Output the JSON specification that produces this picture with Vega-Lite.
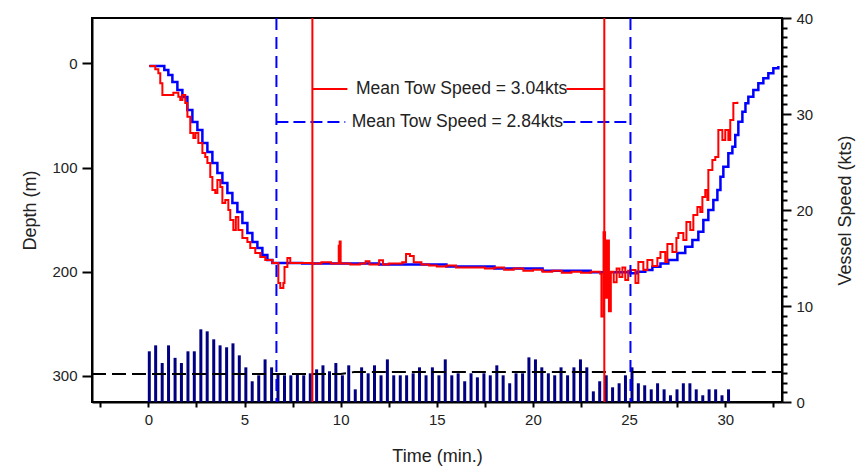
{
  "$schema": "https://vega.github.io/schema/vega-lite/v6.json",
  "width": 690,
  "height": 384,
  "autosize": {"type": "none"},
  "padding": {"left": 92, "top": 18, "right": 78, "bottom": 74},
  "config": {
    "view": {"stroke": "black", "strokeWidth": 2},
    "font": "Liberation Sans",
    "axis": {
      "grid": false,
      "domainColor": "black",
      "domainWidth": 2,
      "tickColor": "black",
      "tickWidth": 2,
      "labelColor": "#222",
      "labelFont": "Liberation Sans",
      "labelFontSize": 15,
      "titleFont": "Liberation Sans",
      "titleFontSize": 18,
      "titleFontWeight": "normal",
      "titleColor": "#222",
      "labelOverlap": false
    }
  },
  "datasets": {
    "speed": [
      {"t": 0.05, "s": 5.28}, {"t": 0.38, "s": 5.9}, {"t": 0.72, "s": 4.06}, {"t": 1.05, "s": 5.9},
      {"t": 1.39, "s": 4.6}, {"t": 1.72, "s": 4.06}, {"t": 2.06, "s": 5.28}, {"t": 2.39, "s": 5.28},
      {"t": 2.73, "s": 7.57}, {"t": 3.06, "s": 7.36}, {"t": 3.4, "s": 6.53}, {"t": 3.73, "s": 5.9},
      {"t": 4.07, "s": 5.7}, {"t": 4.4, "s": 6.11}, {"t": 4.73, "s": 4.86}, {"t": 5.07, "s": 3.61},
      {"t": 5.4, "s": 2.16}, {"t": 5.74, "s": 2.78}, {"t": 6.07, "s": 4.44}, {"t": 6.41, "s": 3.61},
      {"t": 6.74, "s": 2.99}, {"t": 7.08, "s": 2.78}, {"t": 7.41, "s": 2.78}, {"t": 7.75, "s": 2.99},
      {"t": 8.08, "s": 2.78}, {"t": 8.42, "s": 2.99}, {"t": 8.75, "s": 3.4}, {"t": 9.08, "s": 3.82},
      {"t": 9.42, "s": 3.2}, {"t": 9.75, "s": 4.06}, {"t": 10.09, "s": 2.78}, {"t": 10.42, "s": 3.82},
      {"t": 10.76, "s": 1.32}, {"t": 11.09, "s": 3.61}, {"t": 11.43, "s": 2.99}, {"t": 11.76, "s": 3.82},
      {"t": 12.1, "s": 2.78}, {"t": 12.43, "s": 4.44}, {"t": 12.76, "s": 2.78}, {"t": 13.1, "s": 2.78},
      {"t": 13.43, "s": 2.78}, {"t": 13.77, "s": 2.99}, {"t": 14.1, "s": 3.61}, {"t": 14.44, "s": 2.78},
      {"t": 14.77, "s": 3.61}, {"t": 15.11, "s": 2.78}, {"t": 15.44, "s": 4.44}, {"t": 15.78, "s": 2.78},
      {"t": 16.11, "s": 2.99}, {"t": 16.45, "s": 2.16}, {"t": 16.78, "s": 2.99}, {"t": 17.11, "s": 2.57},
      {"t": 17.45, "s": 2.99}, {"t": 17.78, "s": 2.78}, {"t": 18.12, "s": 3.82}, {"t": 18.45, "s": 2.78},
      {"t": 18.79, "s": 1.95}, {"t": 19.12, "s": 2.99}, {"t": 19.46, "s": 2.99}, {"t": 19.79, "s": 4.65},
      {"t": 20.13, "s": 4.44}, {"t": 20.46, "s": 3.61}, {"t": 20.8, "s": 2.99}, {"t": 21.13, "s": 2.78},
      {"t": 21.46, "s": 3.61}, {"t": 21.8, "s": 2.78}, {"t": 22.13, "s": 3.61}, {"t": 22.47, "s": 4.44},
      {"t": 22.8, "s": 3.61}, {"t": 23.14, "s": 1.11}, {"t": 23.47, "s": 2.16}, {"t": 23.81, "s": 2.78},
      {"t": 24.14, "s": 1.53}, {"t": 24.48, "s": 1.95}, {"t": 24.81, "s": 2.78}, {"t": 25.15, "s": 3.61},
      {"t": 25.48, "s": 1.95}, {"t": 25.81, "s": 1.74}, {"t": 26.15, "s": 1.32}, {"t": 26.48, "s": 1.95},
      {"t": 26.82, "s": 1.32}, {"t": 27.15, "s": 0.7}, {"t": 27.49, "s": 1.32}, {"t": 27.82, "s": 1.95},
      {"t": 28.16, "s": 1.95}, {"t": 28.49, "s": 1.32}, {"t": 28.83, "s": 0.7}, {"t": 29.16, "s": 1.32},
      {"t": 29.5, "s": 1.32}, {"t": 29.83, "s": 0.7}, {"t": 30.17, "s": 1.32}
    ],
    "meanline": [
      {"t": -2.93, "s": 2.92}, {"t": 10.0, "s": 2.92}, {"t": 10.7, "s": 3.12}, {"t": 32.95, "s": 3.12}
    ],
    "blue": [
      {"t": 0.05, "d": 2.6}, {"t": 0.62, "d": 2.6}, {"t": 0.83, "d": 6.4}, {"t": 1.04, "d": 11.2},
      {"t": 1.25, "d": 17.9}, {"t": 1.51, "d": 25.6}, {"t": 1.77, "d": 32.3}, {"t": 2.03, "d": 44.8},
      {"t": 2.29, "d": 56.3}, {"t": 2.55, "d": 64.0}, {"t": 2.81, "d": 76.5}, {"t": 3.07, "d": 85.1},
      {"t": 3.33, "d": 95.7}, {"t": 3.59, "d": 105.3}, {"t": 3.85, "d": 114.9}, {"t": 4.11, "d": 124.5},
      {"t": 4.37, "d": 134.1}, {"t": 4.63, "d": 142.7}, {"t": 4.89, "d": 153.3}, {"t": 5.15, "d": 162.9},
      {"t": 5.41, "d": 171.5}, {"t": 5.67, "d": 177.3}, {"t": 5.93, "d": 184.0}, {"t": 6.19, "d": 188.8},
      {"t": 6.45, "d": 191.6}, {"t": 8.0, "d": 192}, {"t": 12.0, "d": 193}, {"t": 15.5, "d": 195},
      {"t": 18.0, "d": 197}, {"t": 20.5, "d": 199}, {"t": 23.0, "d": 200.5}, {"t": 25.07, "d": 201.5},
      {"t": 25.43, "d": 200}, {"t": 25.84, "d": 198.4}, {"t": 26.21, "d": 195.2}, {"t": 26.63, "d": 192},
      {"t": 27.04, "d": 188.8}, {"t": 27.51, "d": 182}, {"t": 27.92, "d": 176}, {"t": 28.29, "d": 169.6},
      {"t": 28.6, "d": 161.6}, {"t": 28.86, "d": 150.4}, {"t": 29.12, "d": 140.8}, {"t": 29.38, "d": 131.2},
      {"t": 29.59, "d": 121.6}, {"t": 29.75, "d": 108.8}, {"t": 29.9, "d": 99.2}, {"t": 30.16, "d": 86.4},
      {"t": 30.37, "d": 80}, {"t": 30.52, "d": 68.8}, {"t": 30.68, "d": 56}, {"t": 30.89, "d": 46.4},
      {"t": 31.05, "d": 38.4}, {"t": 31.2, "d": 32}, {"t": 31.46, "d": 25.6}, {"t": 31.72, "d": 19.2},
      {"t": 31.98, "d": 14.4}, {"t": 32.24, "d": 9.6}, {"t": 32.5, "d": 4.8}, {"t": 32.76, "d": 2.6}
    ],
    "red": [
      {"t": 0.05, "d": 2.6}, {"t": 0.36, "d": 5.8}, {"t": 0.52, "d": 9.6}, {"t": 0.62, "d": 19.2},
      {"t": 0.73, "d": 30.4}, {"t": 1.25, "d": 30.4}, {"t": 1.3, "d": 28.2}, {"t": 1.56, "d": 32},
      {"t": 1.66, "d": 35.2}, {"t": 1.77, "d": 30.4}, {"t": 1.92, "d": 38.1}, {"t": 2.03, "d": 51.2},
      {"t": 2.18, "d": 66.9}, {"t": 2.34, "d": 71.7}, {"t": 2.45, "d": 66.9}, {"t": 2.6, "d": 76.5},
      {"t": 2.81, "d": 86.1}, {"t": 2.96, "d": 89.9}, {"t": 3.07, "d": 95.7}, {"t": 3.22, "d": 109.1},
      {"t": 3.33, "d": 121.6}, {"t": 3.48, "d": 124.5}, {"t": 3.59, "d": 112}, {"t": 3.74, "d": 118.7},
      {"t": 3.85, "d": 134}, {"t": 4.0, "d": 131.2}, {"t": 4.16, "d": 140.8}, {"t": 4.26, "d": 150.4},
      {"t": 4.42, "d": 160}, {"t": 4.55, "d": 147.5}, {"t": 4.68, "d": 160}, {"t": 4.89, "d": 167.7},
      {"t": 5.15, "d": 171.5}, {"t": 5.3, "d": 177.3}, {"t": 5.56, "d": 182}, {"t": 5.82, "d": 185.9},
      {"t": 6.08, "d": 188.8}, {"t": 6.45, "d": 191.6}, {"t": 6.71, "d": 191.6}, {"t": 6.76, "d": 210.8},
      {"t": 6.86, "d": 215.6}, {"t": 7.02, "d": 210.8}, {"t": 7.08, "d": 195.4}, {"t": 7.23, "d": 186.8},
      {"t": 7.38, "d": 191.6}, {"t": 8.5, "d": 192}, {"t": 9.0, "d": 191}, {"t": 9.5, "d": 192},
      {"t": 9.85, "d": 192}, {"t": 9.9, "d": 175}, {"t": 9.95, "d": 171}, {"t": 10.0, "d": 192},
      {"t": 10.5, "d": 193}, {"t": 11.0, "d": 192}, {"t": 11.3, "d": 190}, {"t": 11.5, "d": 193},
      {"t": 12.0, "d": 189}, {"t": 12.2, "d": 193}, {"t": 12.5, "d": 192}, {"t": 13.2, "d": 191},
      {"t": 13.4, "d": 183}, {"t": 13.6, "d": 185}, {"t": 13.8, "d": 191}, {"t": 14.2, "d": 193},
      {"t": 14.6, "d": 194}, {"t": 15.0, "d": 195}, {"t": 15.5, "d": 194}, {"t": 16.0, "d": 196},
      {"t": 17.0, "d": 196}, {"t": 17.5, "d": 197}, {"t": 18.0, "d": 196}, {"t": 18.5, "d": 198},
      {"t": 19.0, "d": 197}, {"t": 19.5, "d": 199}, {"t": 20.0, "d": 198}, {"t": 20.5, "d": 200},
      {"t": 21.0, "d": 199}, {"t": 21.5, "d": 201}, {"t": 22.0, "d": 200}, {"t": 22.5, "d": 201},
      {"t": 23.0, "d": 200}, {"t": 23.5, "d": 202}, {"t": 23.56, "d": 243}, {"t": 23.67, "d": 162},
      {"t": 23.75, "d": 225}, {"t": 23.85, "d": 170}, {"t": 23.95, "d": 238}, {"t": 24.05, "d": 200},
      {"t": 24.2, "d": 210}, {"t": 24.35, "d": 197}, {"t": 24.5, "d": 205}, {"t": 24.65, "d": 196},
      {"t": 24.8, "d": 208}, {"t": 24.95, "d": 199}, {"t": 25.07, "d": 198.3}, {"t": 25.33, "d": 210.8},
      {"t": 25.48, "d": 190.7}, {"t": 25.74, "d": 198.3}, {"t": 25.95, "d": 188.8}, {"t": 26.21, "d": 194.5},
      {"t": 26.47, "d": 186.8}, {"t": 26.63, "d": 181.1}, {"t": 26.88, "d": 190.7}, {"t": 26.99, "d": 173.4},
      {"t": 27.25, "d": 181.1}, {"t": 27.46, "d": 167.7}, {"t": 27.56, "d": 162.9}, {"t": 27.82, "d": 169.6},
      {"t": 27.98, "d": 152.3}, {"t": 28.18, "d": 160}, {"t": 28.34, "d": 145.6}, {"t": 28.55, "d": 137.9},
      {"t": 28.7, "d": 142.7}, {"t": 28.81, "d": 128.3}, {"t": 28.96, "d": 121.6}, {"t": 29.07, "d": 131.2},
      {"t": 29.12, "d": 102.4}, {"t": 29.33, "d": 92.8}, {"t": 29.48, "d": 90}, {"t": 29.64, "d": 64},
      {"t": 29.85, "d": 73.6}, {"t": 30.0, "d": 64}, {"t": 30.16, "d": 73.6}, {"t": 30.26, "d": 54.4},
      {"t": 30.42, "d": 38.1}, {"t": 30.63, "d": 36.8}
    ],
    "vblue": [{"t": 6.66}, {"t": 25.07}],
    "vred": [{"t": 8.53}, {"t": 23.71}],
    "hred": [{"t": 8.53, "t2": 10.35, "d": 24.7}, {"t": 21.74, "t2": 23.71, "d": 24.7}],
    "hblue": [{"t": 6.66, "t2": 10.24, "d": 56.3}, {"t": 21.58, "t2": 25.07, "d": 56.3}],
    "labels": [
      {"t": 16.29, "d": 24.7, "label": "Mean Tow Speed = 3.04kts"},
      {"t": 16.07, "d": 56.3, "label": "Mean Tow Speed = 2.84kts"}
    ]
  },
  "encoding": {
    "x": {
      "field": "t", "type": "quantitative",
      "scale": {"domain": [-2.93, 32.95], "nice": false, "zero": false, "padding": 0},
      "axis": {
        "title": "Time (min.)",
        "values": [-2.5, 0, 2.5, 5, 7.5, 10, 12.5, 15, 17.5, 20, 22.5, 25, 27.5, 30, 32.5],
        "labelExpr": "datum.value % 5 === 0 ? datum.label : ''",
        "tickSize": 5,
        "labelPadding": 5,
        "titlePadding": 20
      }
    }
  },
  "layer": [
    {
      "encoding": {
        "y": {
          "field": "s", "type": "quantitative",
          "scale": {"domain": [0, 40], "nice": false},
          "axis": {
            "orient": "right",
            "title": "Vessel Speed (kts)",
            "titleAngle": 270,
            "titlePadding": 42,
            "values": [0,1,2,3,4,5,6,7,8,9,10,11,12,13,14,15,16,17,18,19,20,21,22,23,24,25,26,27,28,29,30,31,32,33,34,35,36,37,38,39,40],
            "labelExpr": "datum.value % 10 === 0 ? datum.label : ''",
            "tickSize": {"condition": {"test": "datum.value % 10 === 0", "value": 9}, "value": 5},
            "labelPadding": 5
          }
        }
      },
      "layer": [
        {
          "data": {"name": "speed"},
          "mark": {"type": "bar", "size": 3, "color": "#000080"}
        },
        {
          "data": {"name": "meanline"},
          "mark": {"type": "line", "color": "black", "strokeWidth": 2, "strokeDash": [14, 6], "clip": true}
        }
      ]
    },
    {
      "encoding": {
        "y": {
          "field": "d", "type": "quantitative",
          "scale": {"domain": [-43.5, 325], "nice": false, "zero": false, "reverse": true},
          "axis": {
            "orient": "left",
            "title": "Depth (m)",
            "values": [0, 100, 200, 300],
            "tickSize": 10,
            "labelPadding": 5,
            "titlePadding": 12
          }
        }
      },
      "layer": [
        {
          "data": {"name": "blue"},
          "mark": {"type": "line", "color": "#0000FF", "strokeWidth": 2.5, "interpolate": "step-after"}
        },
        {
          "data": {"name": "red"},
          "mark": {"type": "line", "color": "#FF0000", "strokeWidth": 2, "interpolate": "step-after"}
        },
        {
          "data": {"name": "hred"},
          "mark": {"type": "rule", "color": "#FF0000", "strokeWidth": 2},
          "encoding": {"x2": {"field": "t2"}}
        },
        {
          "data": {"name": "hblue"},
          "mark": {"type": "rule", "color": "#0000FF", "strokeWidth": 2, "strokeDash": [12, 5]},
          "encoding": {"x2": {"field": "t2"}}
        },
        {
          "data": {"name": "labels"},
          "mark": {"type": "text", "font": "Liberation Sans", "fontSize": 17.5, "color": "#222", "align": "center", "baseline": "middle"},
          "encoding": {"text": {"field": "label"}}
        }
      ]
    },
    {
      "layer": [
        {
          "data": {"name": "vblue"},
          "mark": {"type": "rule", "color": "#0000FF", "strokeWidth": 2, "strokeDash": [12, 7]}
        },
        {
          "data": {"name": "vred"},
          "mark": {"type": "rule", "color": "#FF0000", "strokeWidth": 2}
        }
      ]
    }
  ],
  "resolve": {"scale": {"y": "independent"}, "axis": {"y": "independent"}}
}
